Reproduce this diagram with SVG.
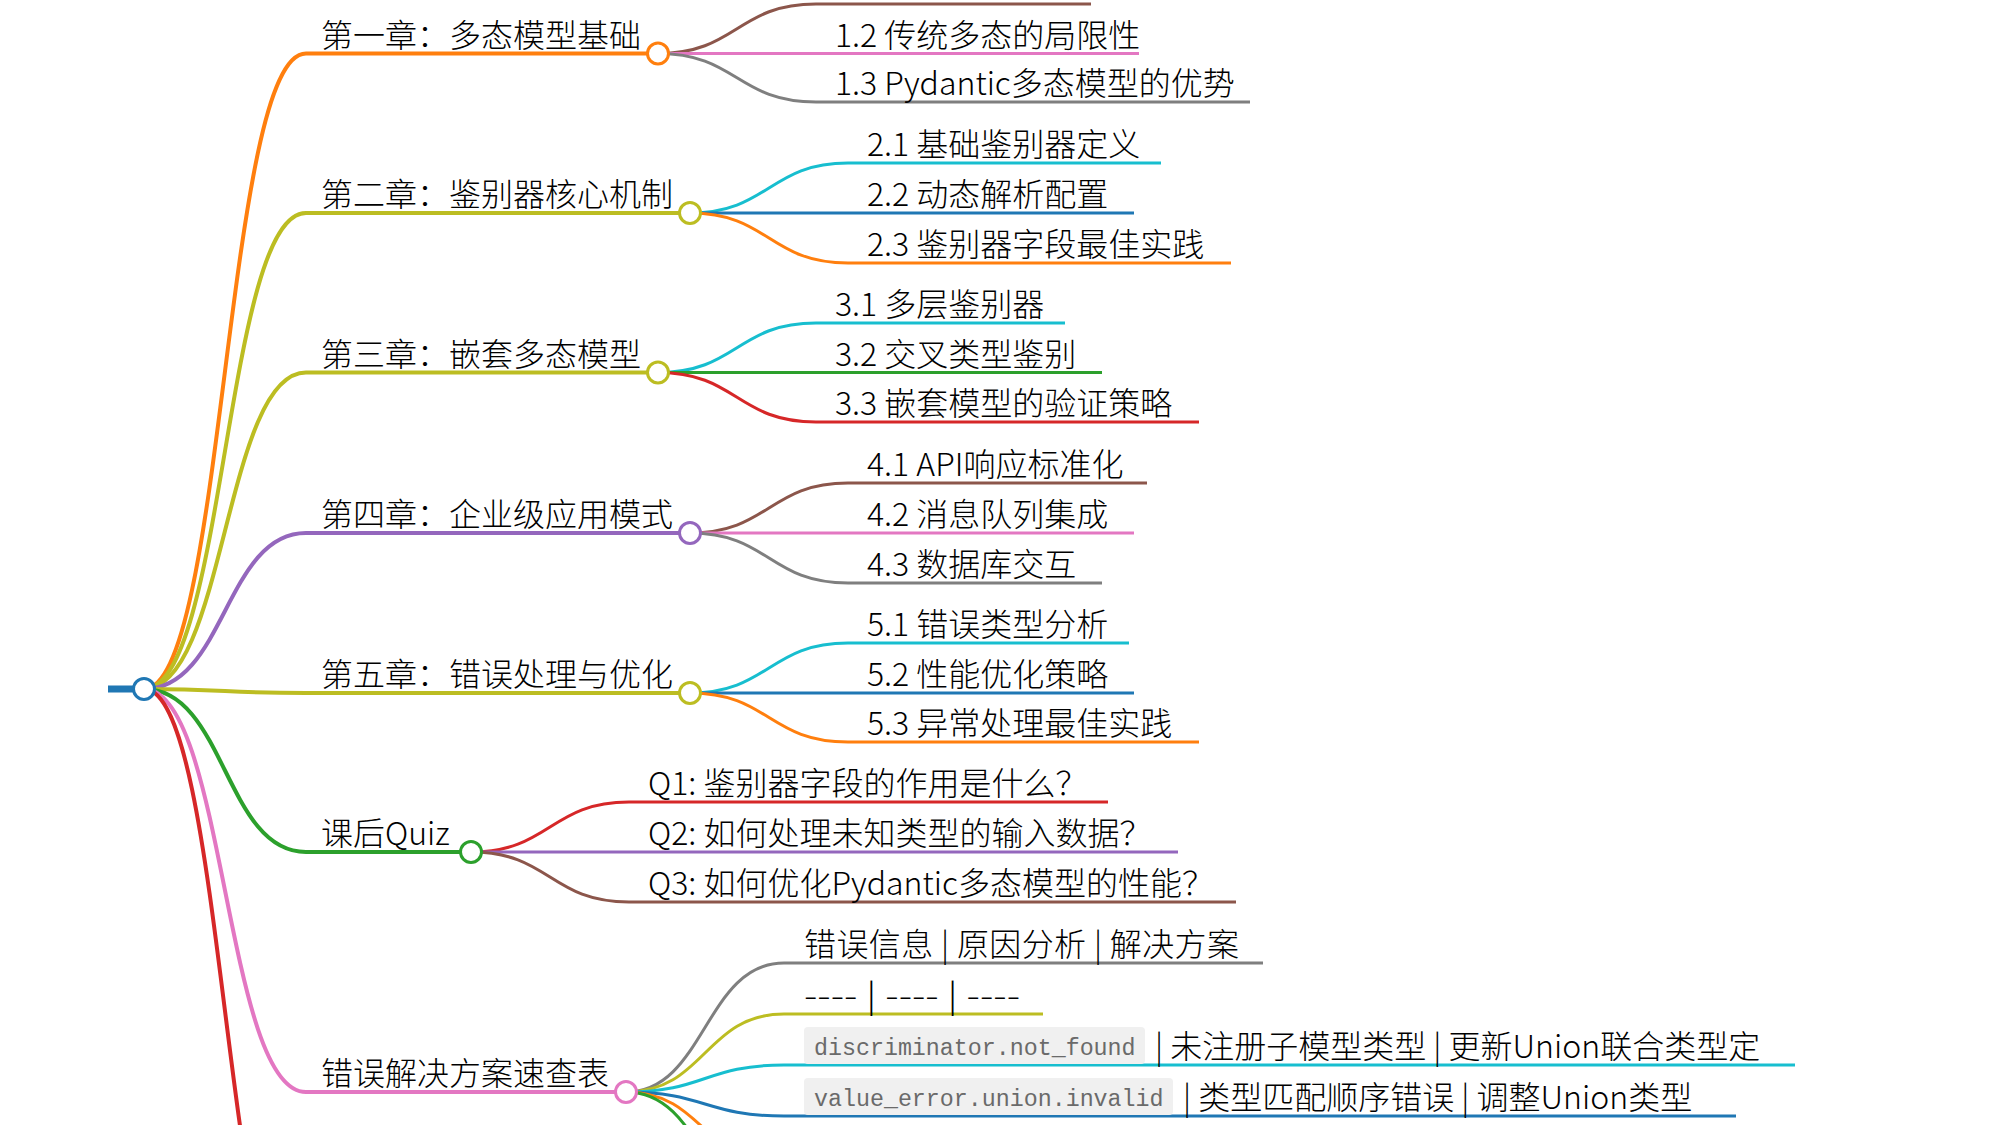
<svg xmlns="http://www.w3.org/2000/svg" width="2000" height="1125" viewBox="0 0 2000 1125">
<style>
.t{font-family:"Noto Sans CJK SC","Noto Sans",sans-serif;font-size:32px;font-weight:300;fill:#000}
.code{font-family:"Liberation Mono","DejaVu Sans Mono",monospace;font-size:23.3px;fill:#6a6a6a}
.box{fill:#f0f0f0}
.lk{fill:none;stroke-width:3}
.lk1{fill:none;stroke-width:4}
.ul{stroke-width:3;fill:none}
.ul1{stroke-width:4;fill:none}
.dot{fill:#fff;stroke-width:3}
.blue{stroke:#1f77b4}.orange{stroke:#ff7f0e}.green{stroke:#2ca02c}.red{stroke:#d62728}.purple{stroke:#9467bd}
.brown{stroke:#8c564b}.pink{stroke:#e377c2}.gray{stroke:#7f7f7f}.olive{stroke:#bcbd22}.cyan{stroke:#17becf}
</style>
<rect width="2000" height="1125" fill="#fff"/>
<g id="connectors">
  <path class="lk1 orange" d="M144,689 C225,689 225,53.5 306,53.5"/>
  <path class="lk1 olive" d="M144,689 C225,689 225,213 306,213"/>
  <path class="lk1 olive" d="M144,689 C225,689 225,372.5 306,372.5"/>
  <path class="lk1 purple" d="M144,689 C225,689 225,533 306,533"/>
  <path class="lk1 olive" d="M144,689 C225,689 225,693 306,693"/>
  <path class="lk1 green" d="M144,689 C225,689 225,852 306,852"/>
  <path class="lk1 pink" d="M144,689 C225,689 225,1092 306,1092"/>
  <path class="lk1 red" d="M144,689 C225,689 225,1333 306,1333"/>

  <path class="lk brown" d="M658,53.5 C737,53.5 737,4 816,4"/>
  <path class="lk pink" d="M658,53.5 C737,53.5 737,53.5 816,53.5"/>
  <path class="lk gray" d="M658,53.5 C737,53.5 737,102 816,102"/>

  <path class="lk cyan" d="M690,213 C769,213 769,163 848,163"/>
  <path class="lk blue" d="M690,213 C769,213 769,213 848,213"/>
  <path class="lk orange" d="M690,213 C769,213 769,263 848,263"/>

  <path class="lk cyan" d="M658,372.5 C737,372.5 737,323 816,323"/>
  <path class="lk green" d="M658,372.5 C737,372.5 737,372.5 816,372.5"/>
  <path class="lk red" d="M658,372.5 C737,372.5 737,422 816,422"/>

  <path class="lk brown" d="M690,533 C769,533 769,483 848,483"/>
  <path class="lk pink" d="M690,533 C769,533 769,533 848,533"/>
  <path class="lk gray" d="M690,533 C769,533 769,583 848,583"/>

  <path class="lk cyan" d="M690,693 C769,693 769,643 848,643"/>
  <path class="lk blue" d="M690,693 C769,693 769,693 848,693"/>
  <path class="lk orange" d="M690,693 C769,693 769,742 848,742"/>

  <path class="lk red" d="M471,852 C550,852 550,802 629,802"/>
  <path class="lk purple" d="M471,852 C550,852 550,852 629,852"/>
  <path class="lk brown" d="M471,852 C550,852 550,902 629,902"/>

  <path class="lk gray" d="M626,1092 C705,1092 705,963 784,963"/>
  <path class="lk olive" d="M626,1092 C705,1092 705,1014 784,1014"/>
  <path class="lk cyan" d="M626,1092 C705,1092 705,1065 784,1065"/>
  <path class="lk blue" d="M626,1092 C705,1092 705,1116 784,1116"/>
  <path class="lk orange" d="M626,1092 C705,1092 705,1167 784,1167"/>
  <path class="lk green" d="M626,1092 C705,1092 705,1218 784,1218"/>
</g>

<g id="root">
  <line x1="108" y1="689" x2="144" y2="689" stroke="#1f77b4" stroke-width="7"/>
  <circle class="dot blue" cx="144" cy="689" r="10.5"/>
</g>

<g id="ch1">
  <line class="ul1 orange" x1="306" y1="53.5" x2="658" y2="53.5"/>
  <text class="t" x="321" y="46.5">第一章：多态模型基础</text>
  <circle class="dot orange" cx="658" cy="53.5" r="10.5"/>
</g>
<g id="n1-1"><line class="ul brown" x1="816" y1="4" x2="1091" y2="4"/></g>
<g id="n1-2"><line class="ul pink" x1="816" y1="53.5" x2="1139" y2="53.5"/><text class="t" x="835" y="46.5">1.2 传统多态的局限性</text></g>
<g id="n1-3"><line class="ul gray" x1="816" y1="102" x2="1250" y2="102"/><text class="t" x="835" y="95">1.3 Pydantic多态模型的优势</text></g>

<g id="ch2">
  <line class="ul1 olive" x1="306" y1="213" x2="690" y2="213"/>
  <text class="t" x="321" y="206">第二章：鉴别器核心机制</text>
  <circle class="dot olive" cx="690" cy="213" r="10.5"/>
</g>
<g id="n2-1"><line class="ul cyan" x1="848" y1="163" x2="1161" y2="163"/><text class="t" x="867" y="156">2.1 基础鉴别器定义</text></g>
<g id="n2-2"><line class="ul blue" x1="848" y1="213" x2="1134" y2="213"/><text class="t" x="867" y="206">2.2 动态解析配置</text></g>
<g id="n2-3"><line class="ul orange" x1="848" y1="263" x2="1231" y2="263"/><text class="t" x="867" y="256">2.3 鉴别器字段最佳实践</text></g>

<g id="ch3">
  <line class="ul1 olive" x1="306" y1="372.5" x2="658" y2="372.5"/>
  <text class="t" x="321" y="365.5">第三章：嵌套多态模型</text>
  <circle class="dot olive" cx="658" cy="372.5" r="10.5"/>
</g>
<g id="n3-1"><line class="ul cyan" x1="816" y1="323" x2="1065" y2="323"/><text class="t" x="835" y="316">3.1 多层鉴别器</text></g>
<g id="n3-2"><line class="ul green" x1="816" y1="372.5" x2="1102" y2="372.5"/><text class="t" x="835" y="365.5">3.2 交叉类型鉴别</text></g>
<g id="n3-3"><line class="ul red" x1="816" y1="422" x2="1199" y2="422"/><text class="t" x="835" y="415">3.3 嵌套模型的验证策略</text></g>

<g id="ch4">
  <line class="ul1 purple" x1="306" y1="533" x2="690" y2="533"/>
  <text class="t" x="321" y="526">第四章：企业级应用模式</text>
  <circle class="dot purple" cx="690" cy="533" r="10.5"/>
</g>
<g id="n4-1"><line class="ul brown" x1="848" y1="483" x2="1147" y2="483"/><text class="t" x="867" y="476">4.1 API响应标准化</text></g>
<g id="n4-2"><line class="ul pink" x1="848" y1="533" x2="1134" y2="533"/><text class="t" x="867" y="526">4.2 消息队列集成</text></g>
<g id="n4-3"><line class="ul gray" x1="848" y1="583" x2="1102" y2="583"/><text class="t" x="867" y="576">4.3 数据库交互</text></g>

<g id="ch5">
  <line class="ul1 olive" x1="306" y1="693" x2="690" y2="693"/>
  <text class="t" x="321" y="686">第五章：错误处理与优化</text>
  <circle class="dot olive" cx="690" cy="693" r="10.5"/>
</g>
<g id="n5-1"><line class="ul cyan" x1="848" y1="643" x2="1129" y2="643"/><text class="t" x="867" y="636">5.1 错误类型分析</text></g>
<g id="n5-2"><line class="ul blue" x1="848" y1="693" x2="1134" y2="693"/><text class="t" x="867" y="686">5.2 性能优化策略</text></g>
<g id="n5-3"><line class="ul orange" x1="848" y1="742" x2="1199" y2="742"/><text class="t" x="867" y="735">5.3 异常处理最佳实践</text></g>

<g id="quiz">
  <line class="ul1 green" x1="306" y1="852" x2="471" y2="852"/>
  <text class="t" x="321" y="845">课后Quiz</text>
  <circle class="dot green" cx="471" cy="852" r="10.5"/>
</g>
<g id="q1"><line class="ul red" x1="629" y1="802" x2="1108" y2="802"/><text class="t" x="648" y="795">Q1: 鉴别器字段的作用是什么？</text></g>
<g id="q2"><line class="ul purple" x1="629" y1="852" x2="1178" y2="852"/><text class="t" x="648" y="845">Q2: 如何处理未知类型的输入数据？</text></g>
<g id="q3"><line class="ul brown" x1="629" y1="902" x2="1236" y2="902"/><text class="t" x="648" y="895">Q3: 如何优化Pydantic多态模型的性能？</text></g>

<g id="table">
  <line class="ul1 pink" x1="306" y1="1092" x2="626" y2="1092"/>
  <text class="t" x="321" y="1085">错误解决方案速查表</text>
  <circle class="dot pink" cx="626" cy="1092" r="10.5"/>
</g>
<g id="row0"><line class="ul gray" x1="784" y1="963" x2="1263" y2="963"/><text class="t" x="804" y="956" textLength="435" lengthAdjust="spacing">错误信息 | 原因分析 | 解决方案</text></g>
<g id="row1"><line class="ul olive" x1="784" y1="1014" x2="1043" y2="1014"/><text class="t" x="804" y="1007" textLength="216" lengthAdjust="spacingAndGlyphs">---- | ---- | ----</text></g>
<g id="row2">
  <line class="ul cyan" x1="784" y1="1065" x2="1795" y2="1065"/>
  <rect class="box" x="804" y="1027" width="341" height="37" rx="4"/>
  <text class="code" x="814" y="1055">discriminator.not_found</text>
  <text class="t" x="1155" y="1058">| 未注册子模型类型 | 更新Union联合类型定</text>
</g>
<g id="row3">
  <line class="ul blue" x1="784" y1="1116" x2="1736" y2="1116"/>
  <rect class="box" x="804" y="1078" width="369" height="37" rx="4"/>
  <text class="code" x="814" y="1106">value_error.union.invalid</text>
  <text class="t" x="1183" y="1109">| 类型匹配顺序错误 | 调整Union类型</text>
</g>
</svg>
